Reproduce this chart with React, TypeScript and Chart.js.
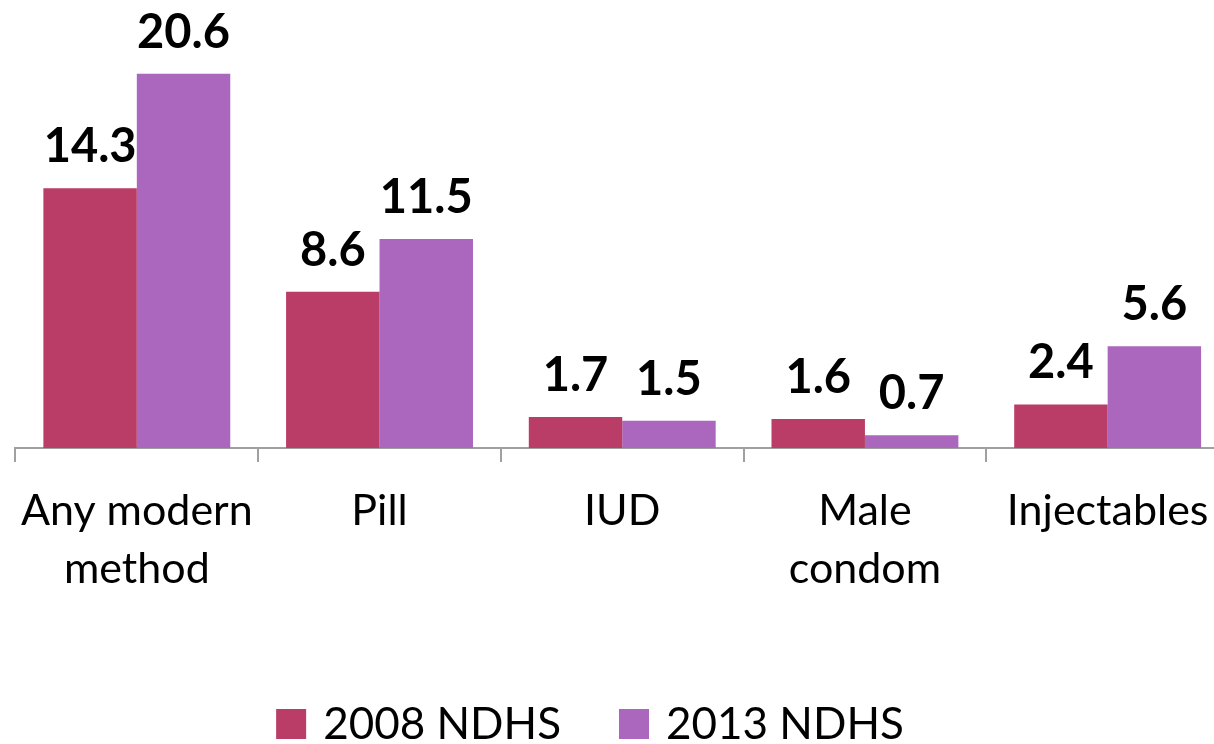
import React, { useEffect, useRef } from "react";
import { Chart, registerables } from "chart.js";

Chart.register(...registerables);

const categories: (string | string[])[] = [
  ["Any modern", "method"],
  "Pill",
  "IUD",
  ["Male", "condom"],
  "Injectables",
];
const series2008: number[] = [14.3, 8.6, 1.7, 1.6, 2.4];
const series2013: number[] = [20.6, 11.5, 1.5, 0.7, 5.6];
const seriesLabels: string[] = ["2008 NDHS", "2013 NDHS"];
const seriesColors: string[] = ["#B93D66", "#AB66BD"];

const FONT = "Lato, 'Open Sans', sans-serif";

const valueLabelPlugin = {
  id: "valueLabels",
  afterDatasetsDraw(chart: any) {
    const ctx = chart.ctx;
    ctx.save();
    ctx.font = `bold 47px ${FONT}`;
    ctx.fillStyle = "#000";
    ctx.textAlign = "center";
    ctx.textBaseline = "alphabetic";
    chart.data.datasets.forEach((ds: any, di: number) => {
      const meta = chart.getDatasetMeta(di);
      meta.data.forEach((el: any, i: number) => {
        ctx.fillText(String(ds.data[i].toFixed(1)), el.x, el.y - 26);
      });
    });
    ctx.restore();
  },
};

const legendPlugin = {
  id: "customLegend",
  afterDraw(chart: any) {
    const ctx = chart.ctx;
    ctx.save();
    ctx.font = `44px ${FONT}`;
    const box = 30;
    const gap = 17;
    const spacing = 58;
    const items = chart.data.datasets.map((ds: any) => ({
      label: ds.label,
      color: ds.backgroundColor,
      w: ctx.measureText(ds.label).width,
    }));
    const total =
      items.reduce((s: number, it: any) => s + box + gap + it.w, 0) +
      spacing * (items.length - 1);
    let x = 590 - total / 2;
    const baseline = 739;
    items.forEach((it: any) => {
      ctx.fillStyle = it.color;
      ctx.fillRect(x, baseline - box, box, box);
      x += box + gap;
      ctx.fillStyle = "#000";
      ctx.textAlign = "left";
      ctx.textBaseline = "alphabetic";
      ctx.fillText(it.label, x, baseline);
      x += it.w + spacing;
    });
    ctx.restore();
  },
};

export default function App() {
  const ref = useRef<HTMLCanvasElement | null>(null);
  useEffect(() => {
    if (!ref.current) return;
    const chart = new Chart(ref.current, {
      type: "bar",
      data: {
        labels: categories,
        datasets: [
          {
            label: seriesLabels[0],
            data: series2008,
            backgroundColor: seriesColors[0],
            barPercentage: 1,
            categoryPercentage: 0.77,
          },
          {
            label: seriesLabels[1],
            data: series2013,
            backgroundColor: seriesColors[1],
            barPercentage: 1,
            categoryPercentage: 0.77,
          },
        ],
      },
      options: {
        responsive: false,
        animation: false,
        layout: { padding: { top: 12, left: 9, right: 15, bottom: 0 } },
        plugins: {
          legend: { display: false },
          tooltip: { enabled: false },
        },
        scales: {
          x: {
            afterFit(scale: any) {
              scale.height = 296;
            },
            border: { display: true, color: "#A0A0A0", width: 2 },
            grid: {
              display: true,
              offset: true,
              drawOnChartArea: false,
              drawTicks: true,
              tickLength: 14,
              color: "#A0A0A0",
              lineWidth: 2,
            },
            ticks: {
              color: "#000",
              padding: 20,
              maxRotation: 0,
              autoSkip: false,
              font: { family: FONT, size: 43, lineHeight: 1.35 },
            },
          },
          y: {
            display: false,
            min: 0,
            max: 24,
          },
        },
      },
      plugins: [valueLabelPlugin, legendPlugin],
    });
    return () => chart.destroy();
  }, []);

  return (
    <div
      style={{
        position: "fixed",
        left: 0,
        top: 0,
        width: 1214,
        height: 744,
        overflow: "hidden",
        background: "#fff",
      }}
    >
      <canvas ref={ref} width={1244} height={744} style={{ display: "block" }} />
    </div>
  );
}
